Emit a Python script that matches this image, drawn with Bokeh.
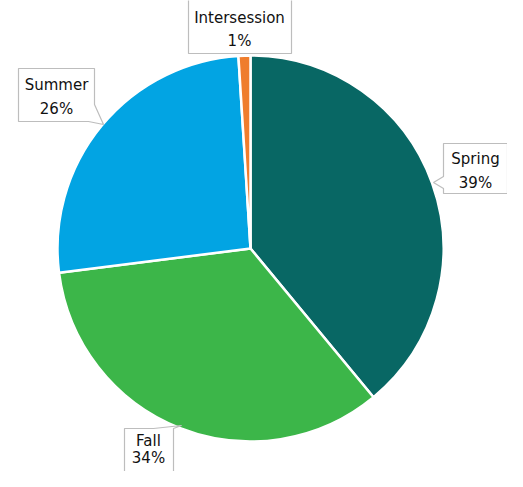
import math
from bokeh.plotting import figure
from bokeh.models import Range1d
from bokeh.core.properties import value
from bokeh.embed import file_html
from bokeh.resources import INLINE

# ---- data ----
categories = ["Spring", "Fall", "Summer", "Intersession"]
percents = [39, 34, 26, 1]
pct_labels = ["39%", "34%", "26%", "1%"]
colors = ["#086764", "#3cb649", "#02a4e3", "#ef7d2d"]

# ---- layout (reference pixel coordinates) ----
W, H = 507, 471
CX, CY, R = 250, 248, 193

callouts = {
    "Spring": dict(poly=[(443, 143), (507, 143), (507, 193), (443, 193), (443, 188), (433, 182), (443, 176)],
                   tx=475, ty1=158, ty2=182),
    "Fall": dict(poly=[(124, 428), (153, 428), (181, 425), (173, 428), (173, 495), (124, 495)],
                 tx=148, ty1=440, ty2=457),
    "Summer": dict(poly=[(18, 68), (94, 68), (94, 104), (103, 124), (88, 121), (18, 121)],
                   tx=56, ty1=84, ty2=108),
    "Intersession": dict(poly=[(188, -5), (291, -5), (291, 53), (188, 53)],
                         tx=239, ty1=17, ty2=40),
}

p = figure(width=W, height=H, output_backend="svg", toolbar_location=None,
           x_range=Range1d(0, W), y_range=Range1d(-H, 0),
           min_border=0, outline_line_color=None)
p.axis.visible = False
p.grid.visible = False
p.background_fill_color = "white"
p.border_fill_color = "white"

total = float(sum(percents))
cum = 0.0
starts, ends = [], []
for v in percents:
    starts.append(math.pi / 2 - 2 * math.pi * cum / total)
    cum += v
    ends.append(math.pi / 2 - 2 * math.pi * cum / total)

p.wedge(x=[CX] * len(percents), y=[-CY] * len(percents), radius=R,
        start_angle=starts, end_angle=ends, direction="clock",
        fill_color=colors, line_color="white", line_width=2.5)

for cat, pct in zip(categories, pct_labels):
    c = callouts[cat]
    xs = [pt[0] for pt in c["poly"]]
    ys = [-pt[1] for pt in c["poly"]]
    p.patch(xs, ys, fill_color="white", line_color="#bdbdbd", line_width=1.2)
    p.text(x=[c["tx"]], y=[-c["ty1"]], text=[cat], text_align="center",
           text_baseline="middle", text_font=value("DejaVu Sans"),
           text_font_size="15px", text_color="#111111")
    p.text(x=[c["tx"]], y=[-c["ty2"]], text=[pct], text_align="center",
           text_baseline="middle", text_font=value("DejaVu Sans"),
           text_font_size="15px", text_color="#111111")

open("out.html", "w").write(file_html(p, INLINE))
